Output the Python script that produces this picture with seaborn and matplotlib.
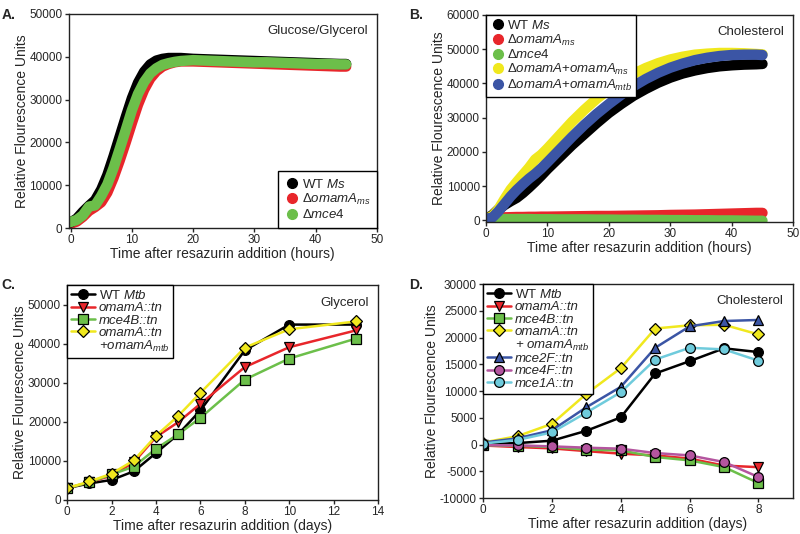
import numpy as np
import pandas as pd
import matplotlib
matplotlib.use('Agg')
import matplotlib.pyplot as plt
from matplotlib.lines import Line2D
import seaborn as sns

sns.set_style('ticks')
plt.rcParams['font.family'] = ['Liberation Sans', 'DejaVu Sans']
plt.rcParams['mathtext.fontset'] = 'custom'
plt.rcParams['mathtext.rm'] = 'Liberation Sans'
plt.rcParams['mathtext.it'] = 'Liberation Sans:italic'
plt.rcParams['axes.unicode_minus'] = False

# ---- data ----
# A: glucose/glycerol, M. smegmatis (hours)
tA = list(range(0, 21)) + [22, 24, 26, 28, 30, 32, 34, 36, 38, 40, 42, 44, 45]
wt_A = [1300, 2200, 3800, 5200, 6500, 9000, 12400, 16700, 21300, 25900, 30300, 33900, 36500,
        38200, 39100, 39500, 39700, 39700, 39700, 39600, 39500,
        39400, 39300, 39200, 39100, 39000, 38900, 38800, 38700, 38600, 38500, 38400, 38300, 38300]
omam_A = [1000, 1500, 2600, 4000, 4900, 6000, 8300, 11700, 15700, 20000, 24500, 28800, 32300,
          34900, 36600, 37700, 38300, 38700, 38900, 38900, 38900,
          38800, 38700, 38600, 38500, 38400, 38300, 38200, 38100, 38000, 37900, 37800, 37700, 37700]
mce4_A = [1400, 1900, 3000, 5000, 5300, 7500, 10200, 14000, 18400, 22900, 27500, 31300, 34100,
          36100, 37300, 38100, 38500, 38800, 39000, 39100, 39200,
          39100, 39000, 38900, 38800, 38700, 38700, 38600, 38500, 38400, 38300, 38300, 38200, 38200]

# B: cholesterol, M. smegmatis (hours)
tB = [0, 1, 2, 3, 4, 5, 6, 7, 8, 9, 10, 12, 14, 16, 18, 20, 22, 24, 26, 28, 30,
      32, 34, 36, 38, 40, 42, 44, 45]
wt_B = [500, 1500, 3200, 4500, 5600, 6600, 8000, 9600, 11300, 13100, 15000, 18500, 22000,
        25200, 28400, 31400, 34000, 36400, 38400, 40200, 41700, 42900, 43800, 44500,
        45000, 45300, 45500, 45600, 45700]
omam_B = [500, 700, 800, 900, 950, 1000, 1000, 1050, 1050, 1100, 1100, 1150, 1200, 1250,
          1300, 1300, 1350, 1400, 1450, 1500, 1600, 1650, 1700, 1800, 1900, 2000, 2100,
          2200, 2200]
mce4_B = [500, 450, 400, 400, 400, 400, 400, 400, 350, 350, 350, 300, 300, 300, 250, 250,
          200, 200, 150, 150, 100, 100, 50, 50, 0, 0, -50, -100, -100]
comp_ms_B = [500, 1200, 3200, 6200, 9000, 11200, 13300, 15400, 17800, 19200, 21000, 24900,
             28800, 32300, 35500, 38300, 40800, 42800, 44500, 45900, 47000, 47800, 48400,
             48700, 48900, 48900, 48800, 48600, 48500]
comp_mtb_B = [500, 800, 2600, 4800, 7000, 8900, 10600, 12200, 13600, 15200, 17000, 20700,
              24400, 27900, 31100, 34000, 36700, 39200, 41300, 43100, 44600, 45800, 46800,
              47500, 48000, 48300, 48400, 48400, 48300]

# C: glycerol, M. tuberculosis (days)
dC = [0, 1, 2, 3, 4, 5, 6, 8, 10, 13]
wt_C = [3000, 4200, 5100, 7300, 12000, 16800, 22900, 38300, 44900, 44900]
omam_C = [3000, 4500, 6200, 9600, 16100, 19900, 24600, 34000, 39100, 43400]
mce4b_C = [3000, 4500, 6500, 8500, 13100, 16800, 21000, 30800, 36200, 41300]
comp_C = [3000, 4700, 6700, 10100, 16400, 21500, 27400, 39000, 43700, 45700]

# D: cholesterol, M. tuberculosis (days)
dD = [0, 1, 2, 3, 4, 5, 6, 7, 8]
wt_D = [100, 300, 750, 2600, 5100, 13300, 15600, 18000, 17300]
omam_D = [-150, -440, -690, -1200, -1680, -2000, -2600, -3900, -4200]
mce4b_D = [-100, -190, -440, -930, -1060, -2300, -2930, -4180, -7160]
comp_D = [400, 1600, 3900, 9500, 14300, 21700, 22300, 22400, 20600]
mce2f_D = [400, 1200, 2700, 7000, 10800, 18100, 22100, 23100, 23300]
mce4f_D = [-100, -130, -320, -560, -750, -1560, -2000, -3240, -6040]
mce1a_D = [200, 900, 2300, 6000, 9800, 15900, 18100, 17800, 15700]

BLACK = '#000000'
RED = '#e8262b'
GREEN = '#6cbf4a'
YELLOW = '#f0e81e'
BLUE = '#3b55a5'
PURPLE = '#b4559f'
CYAN = '#6fcbdc'

ylab = 'Relative Flourescence Units'
fs = 8.5     # tick labels
lfs = 10     # axis labels

fig = plt.figure(figsize=(8, 5.34), dpi=100)
axA = fig.add_axes([0.086, 0.573, 0.385, 0.401])
axB = fig.add_axes([0.6075, 0.584, 0.384, 0.388])
axC = fig.add_axes([0.084, 0.064, 0.3885, 0.402])
axD = fig.add_axes([0.604, 0.067, 0.387, 0.401])


def style(ax, xlabel):
    for s in ax.spines.values():
        s.set_linewidth(1.0)
        s.set_color('#222222')
    ax.tick_params(direction='out', length=3, width=1, labelsize=fs, pad=1.5)
    ax.set_xlabel(xlabel, fontsize=lfs, labelpad=0.5)
    ax.set_ylabel(ylab, fontsize=lfs, labelpad=0.5)


def box_legend(ax, handles, labels, loc, **kw):
    leg = ax.legend(handles, labels, loc=loc, borderaxespad=0, fancybox=False, edgecolor='k',
                    framealpha=1, fontsize=fs + 1, **kw)
    leg.get_frame().set_linewidth(1)
    return leg


# ---- A ----
for y, c in [(omam_A, RED), (wt_A, BLACK), (mce4_A, GREEN)]:
    sns.lineplot(x=tA, y=y, color=c, lw=7.5, ax=axA, solid_capstyle='round')
axA.set_xlim(-0.3, 50)
axA.set_ylim(0, 50000)
axA.set_yticks(range(0, 50001, 10000))
axA.set_xticks(range(0, 51, 10))
style(axA, 'Time after resazurin addition (hours)')
axA.text(0.97, 0.92, 'Glucose/Glycerol', transform=axA.transAxes, ha='right', va='center', fontsize=9.5)
hA = [Line2D([], [], ls='', marker='o', ms=7, color=c) for c in (BLACK, RED, GREEN)]
box_legend(axA, hA, ['WT $Ms$', 'Δ$omamA_{ms}$', r'Δ$\mathit{mce4}$'], 'lower right',
           handletextpad=0.1, borderpad=0.5, labelspacing=0.1, handlelength=1.2)

# ---- B ----
for y, c in [(omam_B, RED), (mce4_B, GREEN), (wt_B, BLACK), (comp_ms_B, YELLOW), (comp_mtb_B, BLUE)]:
    sns.lineplot(x=tB, y=y, color=c, lw=7.5, ax=axB, solid_capstyle='round')
axB.set_xlim(0, 50)
axB.set_ylim(-500, 60000)
axB.set_yticks(range(0, 60001, 10000))
axB.set_xticks(range(0, 51, 10))
style(axB, 'Time after resazurin addition (hours)')
axB.text(0.97, 0.92, 'Cholesterol', transform=axB.transAxes, ha='right', va='center', fontsize=9.5)
hB = [Line2D([], [], ls='', marker='o', ms=7, color=c) for c in (BLACK, RED, GREEN, YELLOW, BLUE)]
box_legend(axB, hB, ['WT $Ms$', 'Δ$omamA_{ms}$', r'Δ$\mathit{mce4}$', 'Δ$omamA$+$omamA_{ms}$',
                     'Δ$omamA$+$omamA_{mtb}$'], 'upper left',
           handletextpad=0.1, borderpad=0.3, labelspacing=0.05, handlelength=1.2)

# ---- C ----
seriesC = [(wt_C, BLACK, 'o', 'WT $Mtb$'),
           (omam_C, RED, 'v', 'omamA::tn'),
           (mce4b_C, GREEN, 's', 'mce4B::tn'),
           (comp_C, YELLOW, 'D', 'omamA::tn')]
for y, c, m, lab in seriesC:
    sns.lineplot(x=dC, y=y, color=c, marker=m, ms=7 if m != 'D' else 6, markeredgecolor='k',
                 markeredgewidth=0.9, lw=1.8, ax=axC, label=lab)
axC.set_xlim(0, 14)
axC.set_ylim(0, 55000)
axC.set_yticks(range(0, 50001, 10000))
axC.set_xticks(range(0, 15, 2))
style(axC, 'Time after resazurin addition (days)')
axC.text(0.97, 0.915, 'Glycerol', transform=axC.transAxes, ha='right', va='center', fontsize=9.5)
hC, lC = axC.get_legend_handles_labels()
hC.append(Line2D([], [], ls='', marker=''))
lC.append('+omamA$_{mtb}$')
legC = box_legend(axC, hC, lC, 'upper left', handletextpad=0.3, borderpad=0.3,
                  labelspacing=0.0, handlelength=1.8)
for i, t in enumerate(legC.get_texts()):
    if i > 0:
        t.set_fontstyle('italic')

# ---- D ----
seriesD = [(wt_D, BLACK, 'o', 'WT $Mtb$'),
           (omam_D, RED, 'v', 'omamA::tn'),
           (mce4b_D, GREEN, 's', 'mce4B::tn'),
           (comp_D, YELLOW, 'D', 'omamA::tn'),
           (mce2f_D, BLUE, '^', 'mce2F::tn'),
           (mce4f_D, PURPLE, 'o', 'mce4F::tn'),
           (mce1a_D, CYAN, 'o', 'mce1A::tn')]
for y, c, m, lab in seriesD:
    sns.lineplot(x=dD, y=y, color=c, marker=m, ms=7 if m != 'D' else 6, markeredgecolor='k',
                 markeredgewidth=0.9, lw=1.8, ax=axD, label=lab)
axD.set_xlim(0, 9)
axD.set_ylim(-10000, 30000)
axD.set_yticks(range(-10000, 30001, 5000))
axD.set_xticks(range(0, 9, 2))
style(axD, 'Time after resazurin addition (days)')
axD.text(0.97, 0.92, 'Cholesterol', transform=axD.transAxes, ha='right', va='center', fontsize=9.5)
hD, lD = axD.get_legend_handles_labels()
hD.insert(4, Line2D([], [], ls='', marker=''))
lD.insert(4, '+ omamA$_{mtb}$')
legD = box_legend(axD, hD, lD, 'upper left', handletextpad=0.3, borderpad=0.3,
                  labelspacing=0.0, handlelength=1.8)
for i, t in enumerate(legD.get_texts()):
    if i > 0:
        t.set_fontstyle('italic')

# panel letters
for x, y, s in [(0.002, 0.985, 'A.'), (0.512, 0.985, 'B.'), (0.002, 0.48, 'C.'), (0.512, 0.48, 'D.')]:
    fig.text(x, y, s, fontsize=10, fontweight='bold', va='top', ha='left')

fig.savefig('out.png', dpi=100)
